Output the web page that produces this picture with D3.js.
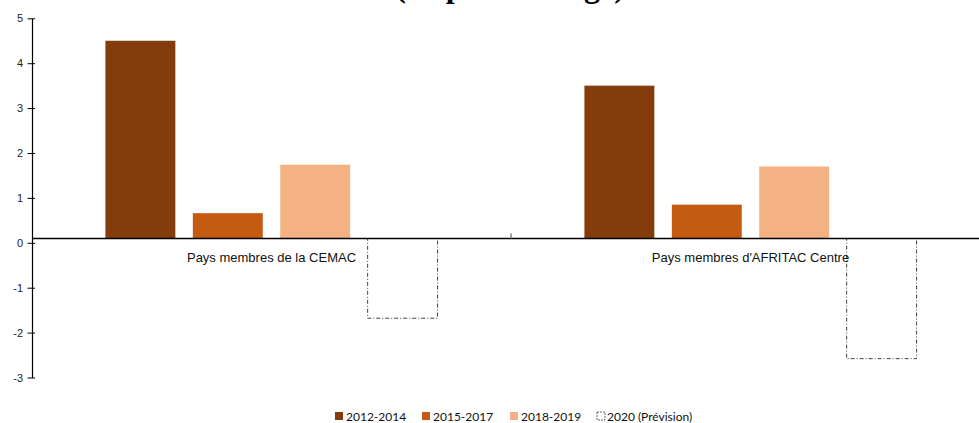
<!DOCTYPE html>
<html>
<head>
<meta charset="utf-8">
<script src="https://cdn.jsdelivr.net/npm/d3@7"></script>
<style>
  html, body { margin: 0; padding: 0; background: #fff; }
  svg { display: block; }
</style>
</head>
<body>
<svg id="chart" width="979" height="423"></svg>
<script>
// ---- data ----
const title = "(en pourcentage)";
const categories = ["Pays membres de la CEMAC", "Pays membres d'AFRITAC Centre"];
const seriesNames = ["2012-2014", "2015-2017", "2018-2019", "2020 (Prévision)"];
const s2012_2014 = [4.5, 3.5];
const s2015_2017 = [0.66, 0.85];
const s2018_2019 = [1.74, 1.70];
const s2020 = [-1.68, -2.58];
const yTicks = [-3, -2, -1, 0, 1, 2, 3, 4, 5];
const seriesColors = ["#843C0C", "#C55A11", "#F4B183", "#FFFFFF"];

const seriesValues = [s2012_2014, s2015_2017, s2018_2019, s2020];

const svg = d3.select("#chart");

// ---- scales ----
const y = d3.scaleLinear().domain([-3, 5]).range([377.5, 18.3]);
const x0 = d3.scaleBand().domain(categories).range([32, 990]).padding(0);
const x1 = d3.scaleBand().domain(seriesNames).range([0, x0.bandwidth()])
  .paddingInner(0.2).paddingOuter(0.84);

const baseY = y(0) - 4.3; // category axis line sits slightly above the 0 tick

// ---- title (clipped at top, as in the reference) ----
svg.append("text")
  .attr("x", 510).attr("y", -3)
  .attr("text-anchor", "middle")
  .attr("font-family", "'Liberation Serif', 'Times New Roman', serif")
  .attr("font-weight", "bold")
  .attr("font-size", 32)
  .attr("fill", "#000")
  .text(title);

// ---- bars ----
const groups = svg.append("g").selectAll("g")
  .data(categories)
  .join("g")
  .attr("transform", d => `translate(${x0(d)},0)`);

groups.each(function(cat, ci) {
  const g = d3.select(this);
  seriesNames.forEach((s, si) => {
    const v = seriesValues[si][ci];
    const yv = y(v);
    const rect = g.append("rect")
      .attr("x", x1(s))
      .attr("y", Math.min(yv, baseY))
      .attr("width", x1.bandwidth())
      .attr("height", Math.abs(yv - baseY))
      .attr("fill", seriesColors[si]);
    if (si === 3) {
      rect.attr("stroke", "#404040")
        .attr("stroke-width", 1)
        .attr("stroke-dasharray", "4,2,1,2");
    }
  });
});

// ---- category axis line ----
svg.append("line")
  .attr("x1", 32).attr("x2", 990)
  .attr("y1", baseY).attr("y2", baseY)
  .attr("stroke", "#000").attr("stroke-width", 1.5);

// category separator tick marks
const sepX = [x0.range()[0] + x0.bandwidth()];
svg.append("g").selectAll("line").data(sepX).join("line")
  .attr("x1", d => d).attr("x2", d => d)
  .attr("y1", baseY).attr("y2", baseY - 5)
  .attr("stroke", "#808080").attr("stroke-width", 1.5);

// category labels
svg.append("g").selectAll("text").data(categories).join("text")
  .attr("x", d => x0(d) + x0.bandwidth() / 2)
  .attr("y", baseY + 23)
  .attr("text-anchor", "middle")
  .attr("font-family", "'Liberation Sans', Arial, sans-serif")
  .attr("font-size", 13)
  .attr("fill", "#111")
  .text(d => d);

// ---- y axis ----
const yAxis = d3.axisLeft(y).tickValues(yTicks).tickSize(0).tickPadding(0).tickFormat(d => String(d));
const ya = svg.append("g").attr("transform", "translate(32,0)").call(yAxis);
ya.select(".domain").attr("stroke", "#000").attr("stroke-width", 1.2);
ya.selectAll(".tick line").attr("x1", -4.5).attr("x2", 3).attr("stroke", "#000").attr("stroke-width", 1);
ya.selectAll(".tick text")
  .attr("x", -9)
  .attr("font-family", "'Liberation Sans', Arial, sans-serif")
  .attr("font-size", 11)
  .attr("fill", "#222");

// ---- legend ----
const legendX = [335, 422, 510, 597];
const leg = svg.append("g");
seriesNames.forEach((s, i) => {
  const r = leg.append("rect")
    .attr("x", legendX[i]).attr("y", 412)
    .attr("width", 8).attr("height", 8)
    .attr("fill", seriesColors[i]);
  if (i === 3) {
    r.attr("stroke", "#404040").attr("stroke-width", 0.8).attr("stroke-dasharray", "2,1");
  }
  leg.append("text")
    .attr("x", legendX[i] + (i === 3 ? 10 : 11))
    .attr("y", 421)
    .attr("font-family", "Lato, 'Open Sans', sans-serif")
    .attr("font-size", 12)
    .attr("fill", "#111")
    .text(s);
});
</script>
</body>
</html>
